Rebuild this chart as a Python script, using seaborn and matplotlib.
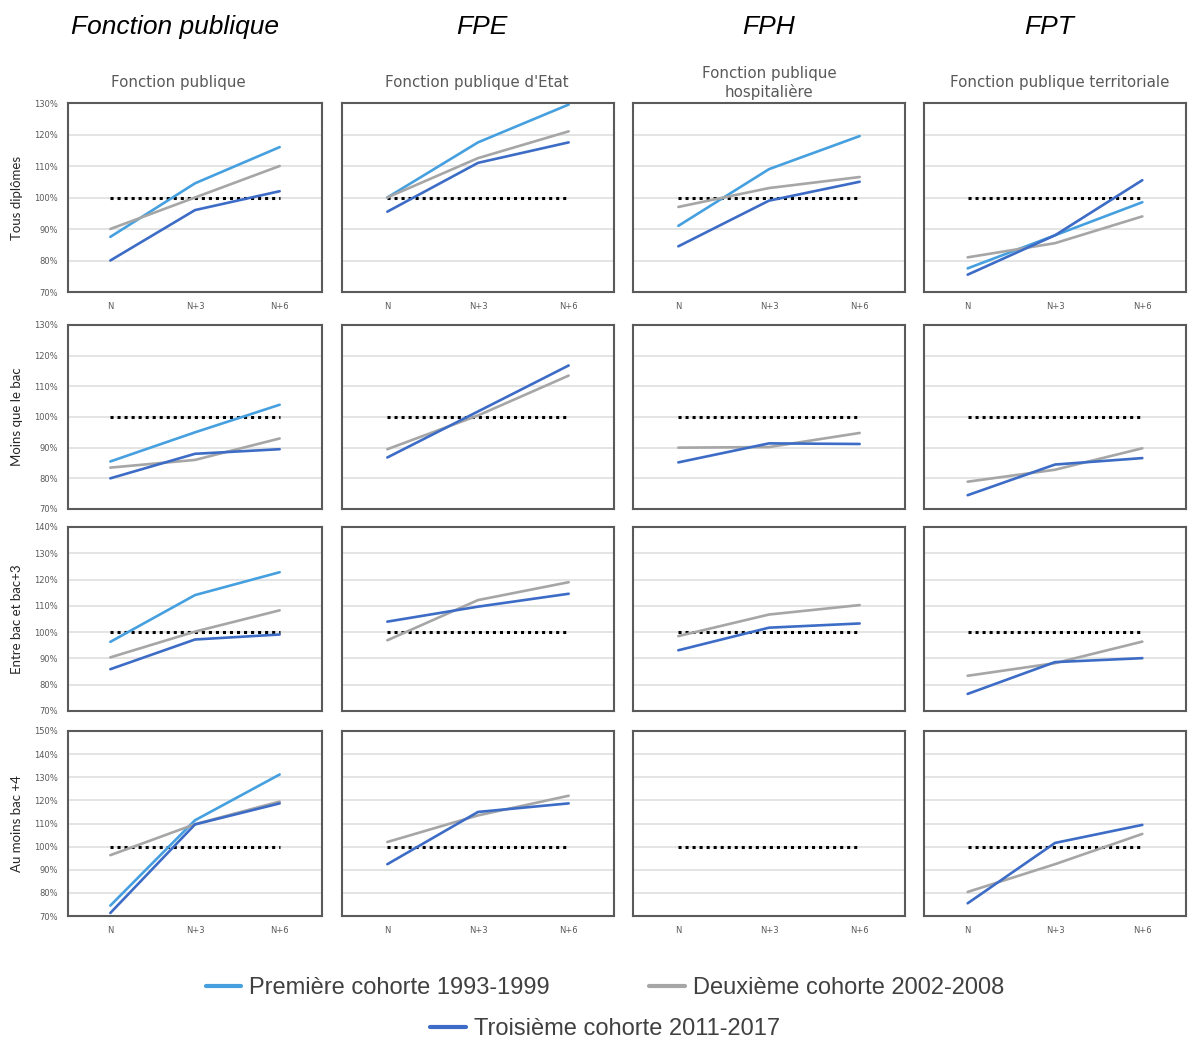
import matplotlib
matplotlib.use("Agg")
import matplotlib.pyplot as plt
from matplotlib.lines import Line2D
from matplotlib.ticker import FuncFormatter
import pandas as pd
import seaborn as sns

# ---------------- data ----------------
periodes = ["N", "N+3", "N+6"]
en_tetes = ["Fonction publique", "FPE", "FPH", "FPT"]
sous_titres = ["Fonction publique", "Fonction publique d'Etat",
               "Fonction publique\nhospitalière", "Fonction publique territoriale"]
lignes = ["Tous diplômes", "Moins que le bac", "Entre bac et bac+3", "Au moins bac +4"]
cohortes = ["Première cohorte 1993-1999", "Deuxième cohorte 2002-2008",
            "Troisième cohorte 2011-2017"]
y_max = [130, 130, 140, 150]

# values in % (columns: FP, FPE, FPH, FPT) ; None = series absent
tous_premiere = [[87.5, 104.5, 116.0], [100.0, 117.5, 129.5], [91.0, 109.0, 119.5], [77.5, 88.0, 98.5]]
tous_deuxieme = [[90.0, 100.0, 110.0], [100.0, 112.5, 121.0], [97.0, 103.0, 106.5], [81.0, 85.5, 94.0]]
tous_troisieme = [[80.0, 96.0, 102.0], [95.5, 111.0, 117.5], [84.5, 99.0, 105.0], [75.5, 88.0, 105.5]]

moins_premiere = [[85.5, 95.0, 104.0], None, None, None]
moins_deuxieme = [[83.5, 86.0, 93.0], [89.5, 100.5, 113.5], [90.0, 90.2, 94.8], [78.9, 82.8, 89.8]]
moins_troisieme = [[80.0, 88.0, 89.5], [86.8, 101.8, 116.8], [85.2, 91.4, 91.2], [74.5, 84.5, 86.6]]

entre_premiere = [[96.3, 114.1, 122.8], None, None, None]
entre_deuxieme = [[90.4, 100.2, 108.3], [96.9, 112.2, 119.0], [98.5, 106.7, 110.3], [83.4, 88.2, 96.4]]
entre_troisieme = [[85.9, 97.2, 99.1], [104.0, 109.7, 114.6], [93.1, 101.7, 103.3], [76.5, 88.6, 90.1]]

plus_premiere = [[74.5, 111.4, 131.2], None, None, None]
plus_deuxieme = [[96.3, 109.7, 119.5], [102.0, 113.5, 122.0], None, [80.4, 92.4, 105.5]]
plus_troisieme = [[71.3, 109.6, 118.7], [92.4, 115.0, 118.7], None, [75.5, 101.6, 109.4]]

reference = [100.0, 100.0, 100.0]

series_par_ligne = [
    (tous_premiere, tous_deuxieme, tous_troisieme),
    (moins_premiere, moins_deuxieme, moins_troisieme),
    (entre_premiere, entre_deuxieme, entre_troisieme),
    (plus_premiere, plus_deuxieme, plus_troisieme),
]

# ---------------- style ----------------
couleurs = ["#46A0DF", "#A6A6A6", "#3D6CC6"]
palette = dict(zip(cohortes, couleurs))

sns.set_theme(style="white")
plt.rcParams["font.family"] = ["DejaVu Sans"]

W, H = 1188, 1039
fig = plt.figure(figsize=(W / 100, H / 100), dpi=100)

col_px = [(68, 322), (342, 614), (633, 905), (924, 1186)]
row_px = [(103, 292), (325, 509), (527, 711), (731, 916)]

gris_txt = "#595959"
pct = FuncFormatter(lambda v, p: f"{v:.0f}%")

for r, (s1, s2, s3) in enumerate(series_par_ligne):
    for c in range(4):
        l, rr = col_px[c]
        t, b = row_px[r]
        ax = fig.add_axes([l / W, 1 - b / H, (rr - l) / W, (b - t) / H])
        recs = []
        for nom, serie in zip(cohortes, (s1, s2, s3)):
            vals = serie[c]
            if vals is None:
                continue
            for i, (p, v) in enumerate(zip(periodes, vals)):
                recs.append({"x": i, "periode": p, "val": v, "cohorte": nom})
        if recs:
            df = pd.DataFrame(recs)
            sns.lineplot(data=df, x="x", y="val", hue="cohorte", palette=palette,
                         hue_order=[h for h in cohortes if h in set(df["cohorte"])],
                         estimator=None, sort=False, legend=False, ax=ax,
                         linewidth=1.9)
        # dotted reference line
        ax.plot(range(len(periodes)), reference, color="black", lw=2.2,
                linestyle=(0, (1, 1.3)), zorder=1.5)

        ax.set_xlim(-0.5, len(periodes) - 0.5)
        ax.set_ylim(70, y_max[r])
        ax.set_yticks(range(70, y_max[r] + 1, 10))
        ax.yaxis.set_major_formatter(pct)
        ax.set_xticks(range(len(periodes)))
        ax.set_xticklabels(periodes)
        ax.yaxis.grid(True, color="#DCDCDC", lw=1.1)
        ax.xaxis.grid(False)
        ax.set_axisbelow(True)
        ax.set_xlabel("")
        ax.set_ylabel("")
        ax.tick_params(axis="both", length=0, labelsize=6, labelcolor=gris_txt, pad=7)
        if c != 0:
            ax.tick_params(axis="y", labelleft=False)
        if r not in (0, 3):
            ax.tick_params(axis="x", labelbottom=False)
        for sp in ax.spines.values():
            sp.set_color("#5A5A5A")
            sp.set_linewidth(1.5)

# row labels
for r, txt in enumerate(lignes):
    t, b = row_px[r]
    fig.text(17 / W, 1 - ((t + b) / 2) / H, txt, rotation=90, ha="center", va="center",
             fontsize=9.5, family=["Lato", "DejaVu Sans"], color="#262626")

# subtitles (first row)
sous_x = [178, 477, 769, 1060]
for x, txt in zip(sous_x, sous_titres):
    fig.text(x / W, 1 - 83 / H, txt, ha="center", va="center", fontsize=10.8,
             color=gris_txt, linespacing=1.3)

# column headers
centres = [175, 482, 769, 1049]
for x, txt in zip(centres, en_tetes):
    fig.text(x / W, 1 - 27 / H, txt, ha="center", va="center", fontsize=19,
             style="italic", family=["Liberation Sans", "DejaVu Sans"], color="black")

# legend
handles = [Line2D([], [], color=col, lw=3) for col in couleurs]
kw = dict(frameon=False, handlelength=1.5, handletextpad=0.35,
          labelcolor="#404040", prop={"family": ["Liberation Sans", "DejaVu Sans"], "size": 17})
fig.legend(handles[:2], cohortes[:2], loc="center", ncol=2, columnspacing=4.2,
           bbox_to_anchor=(605 / W, 1 - 988 / H), **kw)
fig.legend(handles[2:], cohortes[2:], loc="center", ncol=1,
           bbox_to_anchor=(605 / W, 1 - 1029 / H), **kw)

fig.savefig("out.png", dpi=100, facecolor="white")
